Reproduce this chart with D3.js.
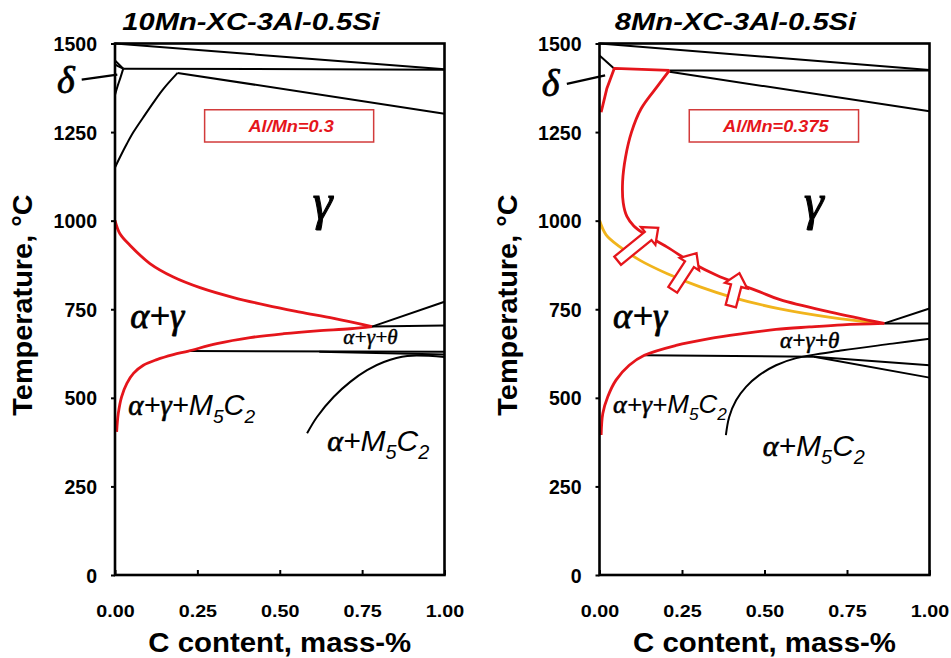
<!DOCTYPE html>
<html>
<head>
<meta charset="utf-8">
<script src="https://cdn.jsdelivr.net/npm/d3@7"></script>
<style>
  body { margin: 0; background: #fff; }
  svg { display: block; }
</style>
</head>
<body>
<svg id="chart" width="951" height="658"></svg>
<script>
// ---- axis ticks ----
const xTicks = [0, 0.25, 0.5, 0.75, 1.0];
const yTicks = [0, 250, 500, 750, 1000, 1250, 1500];

// ---- 10Mn-XC-3Al-0.5Si : phase boundaries, [C mass-%, T °C] ----
const mn10Top        = [[0, 1500], [1, 1427]];
const mn10Peritectic = [[0.025, 1429], [1, 1426]];
const mn10DeltaUpper = [[0, 1452], [0.025, 1429]];
const mn10DeltaLower = [[0.025, 1429], [0.017, 1405], [0.008, 1380], [0, 1355]];
const mn10DeltaInner = [[0.025, 1429], [0.009, 1436], [0, 1441]];
const mn10Solidus    = [[0.19, 1417], [1, 1302]];
const mn10DeltaGamma = [[0, 1150], [0.015, 1179], [0.036, 1217], [0.056, 1250], [0.086, 1292],
                        [0.117, 1334], [0.147, 1372], [0.19, 1417]];
const mn10A3  = [[0, 1001], [0.015, 963], [0.046, 930], [0.106, 879], [0.177, 841], [0.258, 811],
                 [0.36, 783], [0.461, 761], [0.562, 742], [0.664, 724], [0.78, 701]];
const mn10A1  = [[0.005, 404], [0.01, 456], [0.02, 503], [0.036, 541], [0.056, 569], [0.086, 592],
                 [0.127, 608], [0.177, 622], [0.223, 632], [0.309, 653], [0.41, 670], [0.512, 681],
                 [0.613, 689], [0.714, 695], [0.78, 701]];
const mn10Eutectoid  = [[0.78, 701], [1, 704]];
const mn10Acm        = [[0.78, 701], [1, 771]];
const mn10ThreePhase = [[0.223, 632], [1, 630]];
const mn10Split      = [[0.62, 630], [1, 622]];
const mn10Carbide    = [[0.583, 400], [0.613, 446], [0.664, 503], [0.714, 545], [0.765, 578],
                        [0.816, 601], [0.887, 618], [1, 615]];

// ---- 8Mn-XC-3Al-0.5Si : phase boundaries, [C mass-%, T °C] ----
const mn8Top        = [[0, 1500], [1, 1425]];
const mn8Peritectic = [[0.212, 1424], [1, 1424]];
const mn8DeltaCap   = [[0, 1466], [0.045, 1429]];
const mn8Solidus    = [[0.212, 1420], [1, 1309]];
const mn8DeltaRed   = [[0.005, 1306], [0.022, 1372], [0.045, 1430], [0.212, 1424]];
const mn8A3  = [[0.212, 1424], [0.177, 1381], [0.126, 1316], [0.097, 1250], [0.079, 1180],
                [0.07, 1110], [0.072, 1050], [0.083, 1012], [0.104, 985], [0.14, 960],
                [0.204, 926], [0.284, 879], [0.355, 846], [0.426, 820], [0.486, 799],
                [0.547, 777], [0.7, 742], [0.863, 710]];
const mn8A3Ref = [[0, 1001], [0.02, 960], [0.062, 926], [0.123, 888], [0.204, 851], [0.305, 813],
                  [0.405, 783], [0.547, 751], [0.7, 727], [0.84, 711]];
const mn8A1  = [[0.005, 395], [0.01, 456], [0.025, 503], [0.05, 550], [0.09, 592], [0.136, 620],
                [0.232, 648], [0.333, 667], [0.434, 681], [0.535, 693], [0.636, 700],
                [0.737, 706], [0.863, 710]];
const mn8Eutectoid  = [[0.863, 710], [1, 710]];
const mn8Acm        = [[0.863, 710], [1, 752]];
const mn8ThreePhase = [[0.136, 620], [0.65, 616]];
const mn8SplitUpper = [[0.65, 616], [1, 592]];
const mn8SplitLower = [[0.65, 616], [1, 557]];
const mn8Carbide    = [[0.383, 395], [0.393, 446], [0.414, 493], [0.444, 531], [0.484, 564],
                       [0.535, 592], [0.596, 612], [0.737, 634], [0.888, 653], [1, 667]];

// shift of the austenite boundary: arrow tails and tips
const arrowTails = [[0.055, 887], [0.222, 805], [0.398, 759]];
const arrowTips  = [[0.178, 980], [0.294, 908], [0.424, 852]];

// ---- drawing ----
const RED = "#e5151b", ORANGE = "#f1b41c", BLACK = "#000";
const SANS = "'Liberation Sans', Arial, Helvetica, sans-serif";
const SERIF = "'Liberation Serif', 'Times New Roman', serif";
const svg = d3.select("#chart");
const plotTop = 43.5, plotBottom = 575;

const panels = [
  {
    x0: 115, x1: 444.5, title: "10Mn-XC-3Al-0.5Si", ratio: "Al/Mn=0.3",
    black: [mn10Top, mn10Peritectic, mn10DeltaUpper, mn10DeltaLower, mn10DeltaInner, mn10Solidus,
            mn10DeltaGamma, mn10Eutectoid, mn10Acm, mn10ThreePhase, mn10Split, mn10Carbide],
    orange: [],
    red: [mn10A3, mn10A1],
    arrows: false,
    delta: { at: [-0.176, 1360], from: [-0.101, 1398], to: [0.007, 1412] },
    labels: { gamma: [0.6, 1005], ag: [0.046, 696], agm: [0.04, 451, 29], am: [0.644, 350, 30], agt: [0.693, 651, 21] }
  },
  {
    x0: 599.5, x1: 929.5, title: "8Mn-XC-3Al-0.5Si", ratio: "Al/Mn=0.375",
    black: [mn8Top, mn8Peritectic, mn8DeltaCap, mn8Solidus, mn8Eutectoid, mn8Acm,
            mn8ThreePhase, mn8SplitUpper, mn8SplitLower, mn8Carbide],
    orange: [mn8A3Ref],
    red: [mn8A3, mn8A1],
    redLinear: [mn8DeltaRed],
    arrows: true,
    delta: { at: [-0.175, 1351], from: [-0.099, 1386], to: [0.017, 1410] },
    labels: { gamma: [0.62, 1005], ag: [0.041, 696], agm: [0.041, 457, 26], am: [0.495, 335, 30], agt: [0.547, 640, 23] }
  }
];

function richLabel(g, px, py, parts, size) {
  const t = g.append("text").attr("x", px).attr("y", py)
    .attr("font-style", "italic").attr("font-size", size).attr("fill", BLACK);
  let shifted = false;
  parts.forEach(([txt, kind]) => {
    const s = t.append("tspan").text(txt);
    if (kind === "g") {
      s.attr("font-family", SERIF).attr("stroke", BLACK).attr("stroke-width", size * 0.022);
    } else {
      s.attr("font-family", SANS);
    }
    if (kind === "sub") {
      s.attr("font-size", size * 0.66).attr("dy", size * 0.27);
      shifted = true;
    } else if (shifted) {
      s.attr("dy", -size * 0.27);
      shifted = false;
    }
  });
  return t;
}

panels.forEach(p => {
  const x = d3.scaleLinear().domain([0, 1]).range([p.x0, p.x1]);
  const y = d3.scaleLinear().domain([0, 1500]).range([plotBottom, plotTop]);
  const g = svg.append("g");

  const smooth = d3.line().x(d => x(d[0])).y(d => y(d[1])).curve(d3.curveCatmullRom.alpha(0.5));
  const straight = d3.line().x(d => x(d[0])).y(d => y(d[1]));

  // phase boundaries
  p.black.forEach(d => g.append("path").attr("d", smooth(d)).attr("fill", "none")
    .attr("stroke", BLACK).attr("stroke-width", 2).attr("stroke-linejoin", "round"));
  p.orange.forEach(d => g.append("path").attr("d", smooth(d)).attr("fill", "none")
    .attr("stroke", ORANGE).attr("stroke-width", 2.8));
  p.red.forEach(d => g.append("path").attr("d", smooth(d)).attr("fill", "none")
    .attr("stroke", RED).attr("stroke-width", 2.8).attr("stroke-linejoin", "round"));
  (p.redLinear || []).forEach(d => g.append("path").attr("d", straight(d)).attr("fill", "none")
    .attr("stroke", RED).attr("stroke-width", 2.8).attr("stroke-linejoin", "round"));

  // hollow arrows showing the boundary shift
  if (p.arrows) {
    arrowTails.forEach((tail, i) => {
      const tip = arrowTips[i];
      const ax = x(tail[0]), ay = y(tail[1]), bx = x(tip[0]), by = y(tip[1]);
      const L = Math.hypot(bx - ax, by - ay);
      const ux = (bx - ax) / L, uy = (by - ay) / L, nx = -uy, ny = ux;
      const sw = 5.3, hw = 11.5, hl = 13;
      const nkx = bx - ux * hl, nky = by - uy * hl;
      const pts = [
        [ax + nx * sw, ay + ny * sw], [nkx + nx * sw, nky + ny * sw], [nkx + nx * hw, nky + ny * hw],
        [bx, by], [nkx - nx * hw, nky - ny * hw], [nkx - nx * sw, nky - ny * sw], [ax - nx * sw, ay - ny * sw]
      ];
      g.append("polygon").attr("points", pts.map(q => q.join(",")).join(" "))
        .attr("fill", "#fff").attr("stroke", RED).attr("stroke-width", 2.3).attr("stroke-linejoin", "miter");
    });
  }

  // frame
  g.append("rect").attr("x", p.x0).attr("y", plotTop).attr("width", p.x1 - p.x0)
    .attr("height", plotBottom - plotTop).attr("fill", "none").attr("stroke", BLACK).attr("stroke-width", 2.6);

  // axes
  const yAxis = g.append("g").attr("transform", `translate(${p.x0},0)`)
    .call(d3.axisLeft(y).tickValues(yTicks).tickFormat(d3.format("d")).tickSize(4).tickPadding(14));
  yAxis.select(".domain").remove();
  yAxis.selectAll("line").attr("stroke-width", 2);
  yAxis.selectAll("text").attr("font-family", SANS).attr("font-weight", "bold")
    .attr("font-size", 19.5).attr("fill", BLACK).attr("dy", "0.36em");

  const xAxis = g.append("g").attr("transform", `translate(0,${plotBottom})`)
    .call(d3.axisBottom(x).tickValues(xTicks).tickFormat(d3.format(".2f")).tickSize(-5));
  xAxis.select(".domain").remove();
  xAxis.selectAll("line").attr("stroke-width", 2);
  xAxis.selectAll("text").attr("font-family", SANS).attr("font-weight", "bold")
    .attr("font-size", 17).attr("fill", BLACK).attr("dy", null).attr("y", 0)
    .attr("transform", "translate(0,42) scale(1.16,1)");

  // axis titles
  const cx = (p.x0 + p.x1) / 2;
  g.append("text").attr("transform", `translate(${cx},651.5) scale(1.05,1)`)
    .attr("text-anchor", "middle").attr("font-family", SANS).attr("font-weight", "bold")
    .attr("font-size", 28).text("C content, mass-%");
  g.append("text").attr("transform", `translate(${p.x0 - 83},305) rotate(-90) scale(1.07,1)`)
    .attr("text-anchor", "middle").attr("font-family", SANS).attr("font-weight", "bold")
    .attr("font-size", 27).text("Temperature, °C");

  // panel title
  g.append("text").attr("transform", `translate(${p.x0 + 136},30) scale(1.24,1)`)
    .attr("text-anchor", "middle").attr("font-family", SANS).attr("font-weight", "bold")
    .attr("font-style", "italic").attr("font-size", 23.5).text(p.title);

  // Al/Mn ratio box
  const bx0 = x(0.272), bx1 = x(0.785), by0 = y(1313), by1 = y(1222);
  g.append("rect").attr("x", bx0).attr("y", by0).attr("width", bx1 - bx0).attr("height", by1 - by0)
    .attr("fill", "none").attr("stroke", "#d23b3b").attr("stroke-width", 1.5);
  g.append("text").attr("transform", `translate(${(bx0 + bx1) / 2 + 2},${y(1249)}) scale(1.07,1)`)
    .attr("text-anchor", "middle").attr("font-family", SANS).attr("font-weight", "bold")
    .attr("font-style", "italic").attr("font-size", 17).attr("fill", RED).text(p.ratio);

  // delta label and pointer
  g.append("text").attr("x", x(p.delta.at[0])).attr("y", y(p.delta.at[1]))
    .attr("font-family", SERIF).attr("font-style", "italic").attr("font-size", 38)
    .attr("stroke", BLACK).attr("stroke-width", 0.8).text("δ");
  g.append("path").attr("d", straight([p.delta.from, p.delta.to]))
    .attr("stroke", BLACK).attr("stroke-width", 2.2).attr("fill", "none");

  // phase field labels
  const L = p.labels;
  richLabel(g, x(L.gamma[0]), y(L.gamma[1]), [["γ", "g"]], 50);
  richLabel(g, x(L.ag[0]), y(L.ag[1]), [["α", "g"], ["+", "s"], ["γ", "g"]], 36);
  richLabel(g, x(L.agm[0]), y(L.agm[1]),
    [["α", "g"], ["+", "s"], ["γ", "g"], ["+M", "s"], ["5", "sub"], ["C", "s"], ["2", "sub"]], L.agm[2]);
  richLabel(g, x(L.am[0]), y(L.am[1]),
    [["α", "g"], ["+M", "s"], ["5", "sub"], ["C", "s"], ["2", "sub"]], L.am[2]);
  richLabel(g, x(L.agt[0]), y(L.agt[1]), [["α", "g"], ["+", "s"], ["γ", "g"], ["+", "s"], ["θ", "g"]], L.agt[2]);
});
</script>
</body>
</html>
